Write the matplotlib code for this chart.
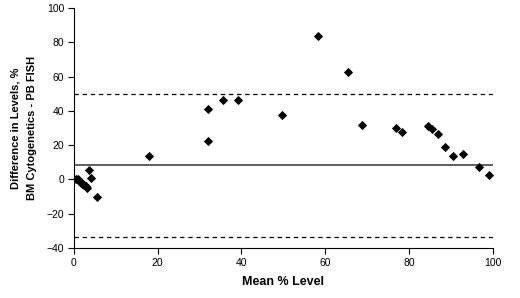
import matplotlib
matplotlib.use("Agg")
import matplotlib.pyplot as plt

# Bland-Altman style data: mean level vs difference (BM cytogenetics - PB FISH)
mean_level = [0.0, 0.5, 1.0, 1.2, 1.6, 2.0, 2.4, 2.8, 3.2, 3.5, 4.0, 5.5,
              18.0, 32.0, 32.0, 35.7, 39.1, 49.6, 58.3, 65.5, 68.7, 76.9,
              78.4, 84.6, 85.4, 87.0, 88.5, 90.5, 92.8, 96.7, 99.1]
difference = [0.0, 0.0, 0.5, -1.0, -1.5, -2.5, -3.0, -4.0, -5.0, 5.5, 1.0, -10.0,
              13.4, 41.0, 22.2, 46.5, 46.5, 37.5, 83.6, 62.4, 31.9, 29.9,
              27.8, 31.3, 29.6, 26.3, 18.7, 13.8, 14.8, 7.2, 2.7]
mean_diff = 8.5
upper_limit = 50.0
lower_limit = -33.4

plt.rcParams['font.family'] = ['Liberation Sans', 'DejaVu Sans']

fig = plt.figure(figsize=(5.2, 2.98), dpi=100)
ax = fig.add_axes([0.142, 0.168, 0.806, 0.805])

ax.scatter(mean_level, difference, marker='D', s=22, color='black', zorder=3, linewidths=0)
ax.plot([0, 100], [mean_diff, mean_diff], color='#333333', lw=1.1)
ax.plot([0, 100], [upper_limit, upper_limit], color='black', lw=0.9, ls=(0, (3.5, 3)))
ax.plot([0, 100], [lower_limit, lower_limit], color='black', lw=0.9, ls=(0, (3.5, 3)))

ax.set_xlim(0, 100)
ax.set_ylim(-40, 100)
ax.set_xticks(range(0, 101, 20))
ax.set_yticks(range(-40, 101, 20))
ax.spines['top'].set_visible(False)
ax.spines['right'].set_visible(False)
ax.spines['left'].set_linewidth(0.8)
ax.spines['bottom'].set_linewidth(0.8)
ax.tick_params(direction='out', length=4, width=0.8, labelsize=7.5, pad=3)

ax.set_xlabel('Mean % Level', fontsize=9, fontweight='bold', labelpad=6)
ax.set_ylabel('Difference in Levels, %\nBM Cytogenetics - PB FISH', fontsize=8,
              fontweight='bold', labelpad=7, linespacing=1.75)

fig.savefig('out.png', dpi=100)
